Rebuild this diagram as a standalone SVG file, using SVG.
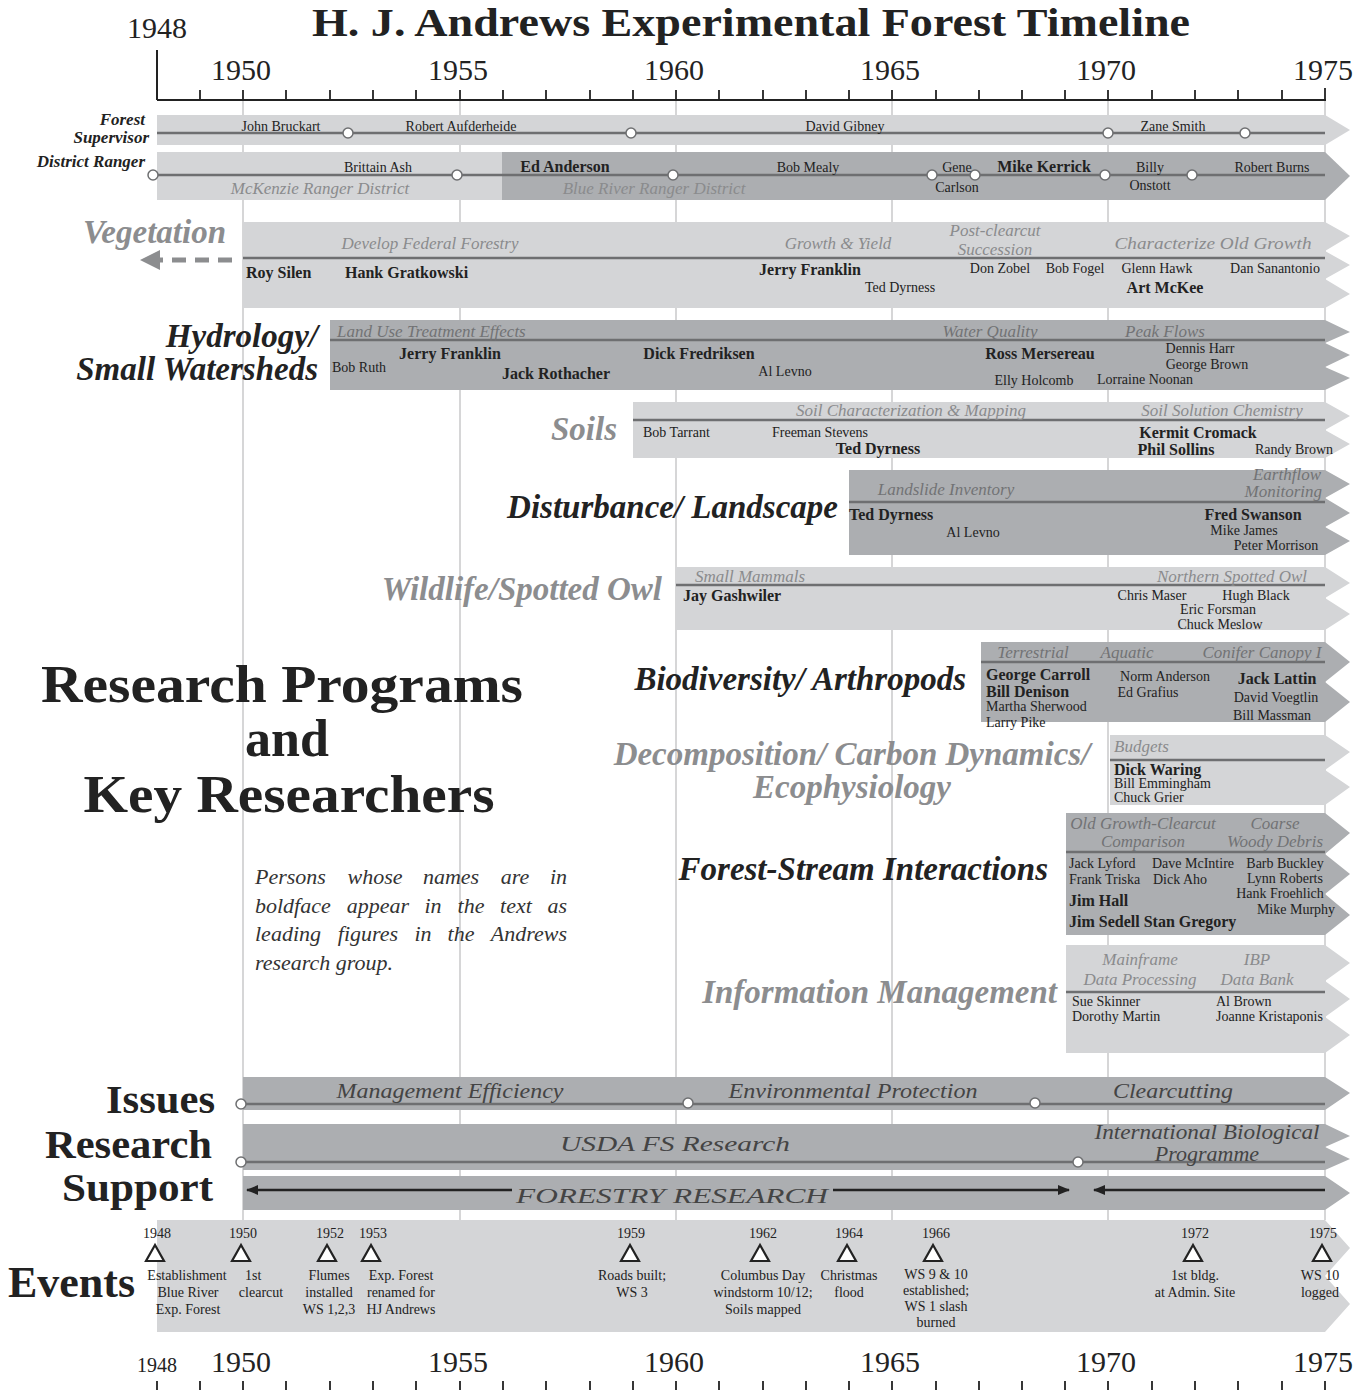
<svg xmlns="http://www.w3.org/2000/svg" width="1357" height="1390" viewBox="0 0 1357 1390">
<style>
text{font-family:"Liberation Serif","Times New Roman",serif;fill:#222}
.lt{fill:#d4d5d7}
.dk{fill:#acaeb1}
.ln{stroke:#6e6f71;stroke-width:2.5;fill:none}
.grid{stroke:#c8c8ca;stroke-width:1.5}
.tick{stroke:#222;stroke-width:1.8}
.yr{font-size:30px;text-anchor:middle}
.nm{font-size:14px;text-anchor:middle}
.nms{font-size:14px}
.b{font-weight:bold;font-size:16px}
.tp{font-style:italic;font-size:17px;fill:#8a8b8d;text-anchor:middle}
.tpd{font-style:italic;font-size:17px;fill:#727375;text-anchor:middle}
.cat{font-weight:bold;font-style:italic;font-size:33px;text-anchor:end}
.gcat{font-weight:bold;font-style:italic;font-size:33px;fill:#8c8d8f;text-anchor:end}
.role{font-weight:bold;font-style:italic;font-size:17px;text-anchor:end}
.big{font-weight:bold;font-size:41px;text-anchor:end}
.is{font-style:italic;font-size:22px;fill:#444;text-anchor:middle}
.ev{font-size:14px;text-anchor:middle}
.nt{font-style:italic;font-size:22px;fill:#333;text-anchor:middle}
.circ{fill:#fff;stroke:#6e6f71;stroke-width:1.5}
.tri{fill:#fff;stroke:#222;stroke-width:2.2}
</style>
<defs>
<marker id="ah" viewBox="0 0 10 10" refX="9" refY="5" markerWidth="5" markerHeight="5" orient="auto-start-reverse"><path d="M0,1 L10,5 L0,9 Z" fill="#222"/></marker>
</defs>
<rect width="1357" height="1390" fill="#fff"/>

<g id="grid">
<line class="grid" x1="243" y1="100" x2="243" y2="1220"/>
<line class="grid" x1="460" y1="100" x2="460" y2="1220"/>
<line class="grid" x1="676" y1="100" x2="676" y2="1220"/>
<line class="grid" x1="892" y1="100" x2="892" y2="1220"/>
<line class="grid" x1="1108" y1="100" x2="1108" y2="1220"/>
<line class="grid" x1="1325" y1="100" x2="1325" y2="1220"/>
</g>

<g id="title">
<text x="751" y="36" font-size="40" font-weight="bold" text-anchor="middle" textLength="878" lengthAdjust="spacingAndGlyphs">H. J. Andrews Experimental Forest Timeline</text>
</g>

<g id="top-axis">
<line x1="157" y1="100" x2="1326" y2="100" stroke="#222" stroke-width="2"/>
<line x1="157" y1="50" x2="157" y2="100" stroke="#222" stroke-width="2"/>
<path class="tick" d="M200,90V100M243,90V100M286,90V100M330,90V100M373,90V100M416,90V100M460,90V100M503,90V100M546,90V100M590,90V100M633,90V100M676,90V100M719,90V100M763,90V100M806,90V100M849,90V100M892,90V100M936,90V100M979,90V100M1022,90V100M1065,90V100M1108,90V100M1152,90V100M1195,90V100M1238,90V100M1282,90V100M1325,88V100"/>
<text x="157" y="38" font-size="30" text-anchor="middle">1948</text>
<text class="yr" x="241" y="80">1950</text>
<text class="yr" x="458" y="80">1955</text>
<text class="yr" x="674" y="80">1960</text>
<text class="yr" x="890" y="80">1965</text>
<text class="yr" x="1106" y="80">1970</text>
<text class="yr" x="1323" y="80">1975</text>
</g>

<g id="forest-supervisor">
<text class="role" x="145" y="125">Forest</text>
<text class="role" x="149" y="143">Supervisor</text>
<path class="lt" d="M157,115 L1325,115 L1350,130 L1325,145 L157,145Z"/>
<line class="ln" x1="157" y1="133" x2="1325" y2="133"/>
<circle class="circ" cx="348" cy="133" r="5"/>
<circle class="circ" cx="631" cy="133" r="5"/>
<circle class="circ" cx="1108" cy="133" r="5"/>
<circle class="circ" cx="1245" cy="133" r="5"/>
<text class="nm" x="281" y="131">John Bruckart</text>
<text class="nm" x="461" y="131">Robert Aufderheide</text>
<text class="nm" x="845" y="131">David Gibney</text>
<text class="nm" x="1173" y="131">Zane Smith</text>
</g>

<g id="district-ranger">
<text class="role" x="145" y="167" font-size="19">District Ranger</text>
<rect class="lt" x="157" y="152" width="345" height="48"/>
<path class="dk" d="M502,152 L1325,152 L1350,176 L1325,200 L502,200Z"/>
<line class="ln" x1="153" y1="175" x2="1325" y2="175"/>
<circle class="circ" cx="153" cy="175" r="5"/>
<circle class="circ" cx="457" cy="175" r="5"/>
<circle class="circ" cx="673" cy="175" r="5"/>
<circle class="circ" cx="932" cy="175" r="5"/>
<circle class="circ" cx="975" cy="175" r="5"/>
<circle class="circ" cx="1105" cy="175" r="5"/>
<circle class="circ" cx="1192" cy="175" r="5"/>
<text class="nm" x="378" y="172">Brittain Ash</text>
<text class="nm b" x="565" y="172" font-size="15">Ed Anderson</text>
<text class="nm" x="808" y="172">Bob Mealy</text>
<text class="nm" x="957" y="172">Gene</text>
<text class="nm" x="957" y="192">Carlson</text>
<text class="nm b" x="1044" y="172" font-size="15">Mike Kerrick</text>
<text class="nm" x="1150" y="172">Billy</text>
<text class="nm" x="1150" y="190">Onstott</text>
<text class="nm" x="1272" y="172">Robert Burns</text>
<text class="tp" x="320" y="194" font-size="15">McKenzie Ranger District</text>
<text class="tp" x="654" y="194" font-size="15">Blue River Ranger District</text>
</g>

<g id="vegetation">
<text class="gcat" x="226" y="243">Vegetation</text>
<line x1="232" y1="260" x2="160" y2="260" stroke="#8c8d8f" stroke-width="5" stroke-dasharray="14 9"/>
<path d="M140,260 L160,250 L160,270Z" fill="#8c8d8f"/>
<path class="lt" d="M243,222 L1325,222 L1350,236 L1325,251 L1350,265 L1325,279 L1350,294 L1325,308 L243,308Z"/>
<line class="ln" x1="243" y1="258" x2="1325" y2="258"/>
<text class="tp" x="430" y="249">Develop Federal Forestry</text>
<text class="tp" x="838" y="249">Growth &amp; Yield</text>
<text class="tp" x="995" y="236">Post-clearcut</text>
<text class="tp" x="995" y="255">Succession</text>
<text class="tp" x="1213" y="249" textLength="197" lengthAdjust="spacingAndGlyphs">Characterize Old Growth</text>
<text class="b" x="246" y="278">Roy Silen</text>
<text class="b" x="345" y="278">Hank Gratkowski</text>
<text class="nm b" x="810" y="275">Jerry Franklin</text>
<text class="nm" x="900" y="292">Ted Dyrness</text>
<text class="nm" x="1000" y="273">Don Zobel</text>
<text class="nm" x="1075" y="273">Bob Fogel</text>
<text class="nm" x="1157" y="273">Glenn Hawk</text>
<text class="nm" x="1275" y="273">Dan Sanantonio</text>
<text class="nm b" x="1165" y="293">Art McKee</text>
</g>

<g id="hydrology">
<text class="cat" x="318" y="347" font-size="34">Hydrology/</text>
<text class="cat" x="318" y="380" font-size="34">Small Watersheds</text>
<path class="dk" d="M330,320 L1325,320 L1350,332 L1325,343 L1350,355 L1325,367 L1350,378 L1325,390 L330,390Z"/>
<line class="ln" x1="330" y1="340" x2="1325" y2="340"/>
<text class="tpd" x="337" y="337" style="text-anchor:start">Land Use Treatment Effects</text>
<text class="tpd" x="990" y="337">Water Quality</text>
<text class="tpd" x="1165" y="337">Peak Flows</text>
<text class="nm b" x="450" y="359">Jerry Franklin</text>
<text class="nm b" x="699" y="359">Dick Fredriksen</text>
<text class="nm b" x="1040" y="359">Ross Mersereau</text>
<text class="nms" x="332" y="372" font-size="13">Bob Ruth</text>
<text class="nm b" x="556" y="379">Jack Rothacher</text>
<text class="nm" x="785" y="376">Al Levno</text>
<text class="nm" x="1200" y="353">Dennis Harr</text>
<text class="nm" x="1207" y="369">George Brown</text>
<text class="nm" x="1034" y="385">Elly Holcomb</text>
<text class="nm" x="1145" y="384">Lorraine Noonan</text>
</g>

<g id="soils">
<text class="gcat" x="617" y="440">Soils</text>
<path class="lt" d="M633,402 L1325,402 L1350,416 L1325,430 L1350,444 L1325,458 L633,458Z"/>
<line class="ln" x1="633" y1="420" x2="1325" y2="420"/>
<text class="tp" x="911" y="416">Soil Characterization &amp; Mapping</text>
<text class="tp" x="1222" y="416">Soil Solution Chemistry</text>
<text class="nms" x="643" y="437">Bob Tarrant</text>
<text class="nm" x="820" y="437">Freeman Stevens</text>
<text class="nm b" x="878" y="454">Ted Dyrness</text>
<text class="nm b" x="1198" y="438">Kermit Cromack</text>
<text class="nm b" x="1176" y="455">Phil Sollins</text>
<text class="nm" x="1294" y="454">Randy Brown</text>
</g>

<g id="disturbance">
<text class="cat" x="838" y="518">Disturbance/ Landscape</text>
<path class="dk" d="M849,470 L1325,470 L1350,484 L1325,498 L1350,513 L1325,527 L1350,541 L1325,555 L849,555Z"/>
<line class="ln" x1="849" y1="502" x2="1325" y2="502"/>
<text class="tpd" x="946" y="495">Landslide Inventory</text>
<text class="tpd" x="1321" y="480" style="text-anchor:end">Earthflow</text>
<text class="tpd" x="1322" y="497" style="text-anchor:end">Monitoring</text>
<text class="b" x="849" y="520">Ted Dyrness</text>
<text class="nm" x="973" y="537">Al Levno</text>
<text class="nm b" x="1253" y="520">Fred Swanson</text>
<text class="nm" x="1244" y="535">Mike James</text>
<text class="nm" x="1276" y="550">Peter Morrison</text>
</g>

<g id="wildlife">
<text class="gcat" x="662" y="600">Wildlife/Spotted Owl</text>
<path class="lt" d="M676,567 L1325,567 L1350,583 L1325,598 L1350,614 L1325,630 L676,630Z"/>
<line class="ln" x1="676" y1="585" x2="1325" y2="585"/>
<text class="tp" x="750" y="582" font-size="16">Small Mammals</text>
<text class="tp" x="1232" y="582" font-size="16">Northern Spotted Owl</text>
<text class="b" x="683" y="601">Jay Gashwiler</text>
<text class="nm" x="1152" y="600">Chris Maser</text>
<text class="nm" x="1256" y="600">Hugh Black</text>
<text class="nm" x="1218" y="614">Eric Forsman</text>
<text class="nm" x="1220" y="629">Chuck Meslow</text>
</g>

<g id="biodiversity">
<text class="cat" x="966" y="690">Biodiversity/ Arthropods</text>
<path class="dk" d="M981,642 L1325,642 L1350,662 L1325,682 L1350,702 L1325,722 L981,722Z"/>
<line class="ln" x1="981" y1="662" x2="1325" y2="662"/>
<text class="tpd" x="1033" y="658" font-size="16">Terrestrial</text>
<text class="tpd" x="1127" y="658" font-size="16">Aquatic</text>
<text class="tpd" x="1262" y="658" font-size="16">Conifer Canopy I</text>
<text class="b" x="986" y="680">George Carroll</text>
<text class="b" x="986" y="697">Bill Denison</text>
<text class="nms" x="986" y="711">Martha Sherwood</text>
<text class="nms" x="986" y="727">Larry Pike</text>
<text class="nm" x="1165" y="681">Norm Anderson</text>
<text class="nm" x="1148" y="697">Ed Grafius</text>
<text class="nm b" x="1277" y="684">Jack Lattin</text>
<text class="nm" x="1276" y="702">David Voegtlin</text>
<text class="nm" x="1272" y="720">Bill Massman</text>
</g>

<g id="decomposition">
<text class="gcat" x="852" y="765" style="text-anchor:middle">Decomposition/ Carbon Dynamics/</text>
<text class="gcat" x="852" y="798" style="text-anchor:middle">Ecophysiology</text>
<path class="lt" d="M1110,735 L1325,735 L1350,752 L1325,770 L1350,787 L1325,805 L1110,805Z"/>
<line class="ln" x1="1110" y1="760" x2="1325" y2="760"/>
<text class="tp" x="1114" y="752" font-size="16" style="text-anchor:start">Budgets</text>
<text class="b" x="1114" y="775" font-size="17">Dick Waring</text>
<text class="nms" x="1114" y="788" font-size="12">Bill Emmingham</text>
<text class="nms" x="1114" y="802" font-size="12">Chuck Grier</text>
</g>

<g id="forest-stream">
<text class="cat" x="1048" y="880">Forest-Stream Interactions</text>
<path class="dk" d="M1066,813 L1325,813 L1350,833 L1325,854 L1350,874 L1325,894 L1350,915 L1325,935 L1066,935Z"/>
<line class="ln" x1="1066" y1="852" x2="1325" y2="852"/>
<text class="tpd" x="1143" y="829" font-size="13">Old Growth-Clearcut</text>
<text class="tpd" x="1143" y="847" font-size="13">Comparison</text>
<text class="tpd" x="1275" y="829" font-size="13">Coarse</text>
<text class="tpd" x="1275" y="847" font-size="13">Woody Debris</text>
<text class="nms" x="1069" y="868">Jack Lyford</text>
<text class="nms" x="1069" y="884">Frank Triska</text>
<text class="nm" x="1193" y="868">Dave McIntire</text>
<text class="nm" x="1180" y="884">Dick Aho</text>
<text class="nm" x="1285" y="868">Barb Buckley</text>
<text class="nm" x="1285" y="883">Lynn Roberts</text>
<text class="nm" x="1280" y="898">Hank Froehlich</text>
<text class="nm" x="1296" y="914">Mike Murphy</text>
<text class="b" x="1069" y="906" font-size="17">Jim Hall</text>
<text class="b" x="1069" y="927" font-size="17">Jim Sedell Stan Gregory</text>
</g>

<g id="information-management">
<text class="gcat" x="1057" y="1003">Information Management</text>
<path class="lt" d="M1066,945 L1325,945 L1350,963 L1325,981 L1350,999 L1325,1017 L1350,1035 L1325,1053 L1066,1053Z"/>
<line class="ln" x1="1066" y1="992" x2="1325" y2="992"/>
<text class="tp" x="1140" y="965" font-size="16">Mainframe</text>
<text class="tp" x="1140" y="985" font-size="16">Data Processing</text>
<text class="tp" x="1257" y="965" font-size="16">IBP</text>
<text class="tp" x="1257" y="985" font-size="16">Data Bank</text>
<text class="nms" x="1072" y="1006">Sue Skinner</text>
<text class="nms" x="1072" y="1021">Dorothy Martin</text>
<text class="nms" x="1216" y="1006">Al Brown</text>
<text class="nms" x="1216" y="1021">Joanne Kristaponis</text>
</g>

<g id="heading">
<text x="282" y="702" font-size="52" font-weight="bold" text-anchor="middle" textLength="482" lengthAdjust="spacingAndGlyphs">Research Programs</text>
<text x="287" y="756" font-size="52" font-weight="bold" text-anchor="middle">and</text>
<text x="289" y="812" font-size="52" font-weight="bold" text-anchor="middle" textLength="411" lengthAdjust="spacingAndGlyphs">Key Researchers</text>
</g>

<g id="note">
<text class="nt" x="255" y="884" style="text-anchor:start">Persons</text>
<text class="nt" x="375" y="884">whose</text>
<text class="nt" x="451" y="884">names</text>
<text class="nt" x="515" y="884">are</text>
<text class="nt" x="567" y="884" style="text-anchor:end">in</text>
<text class="nt" x="255" y="913" style="text-anchor:start">boldface</text>
<text class="nt" x="378" y="913">appear</text>
<text class="nt" x="433" y="913">in</text>
<text class="nt" x="471" y="913">the</text>
<text class="nt" x="516" y="913">text</text>
<text class="nt" x="567" y="913" style="text-anchor:end">as</text>
<text class="nt" x="255" y="941" style="text-anchor:start">leading</text>
<text class="nt" x="368" y="941">figures</text>
<text class="nt" x="423" y="941">in</text>
<text class="nt" x="461" y="941">the</text>
<text class="nt" x="567" y="941" style="text-anchor:end">Andrews</text>
<text class="nt" x="255" y="970" style="text-anchor:start">research group.</text>
</g>

<g id="issues">
<text class="big" x="215" y="1113" textLength="109" lengthAdjust="spacingAndGlyphs">Issues</text>
<path class="dk" d="M243,1077 L1325,1077 L1350,1093 L1325,1110 L243,1110Z"/>
<line class="ln" x1="241" y1="1104" x2="1325" y2="1104"/>
<circle class="circ" cx="241" cy="1104" r="5"/>
<circle class="circ" cx="688" cy="1103" r="5"/>
<circle class="circ" cx="1035" cy="1103" r="5"/>
<text class="is" x="450" y="1098" textLength="227" lengthAdjust="spacingAndGlyphs">Management Efficiency</text>
<text class="is" x="853" y="1098" textLength="249" lengthAdjust="spacingAndGlyphs">Environmental Protection</text>
<text class="is" x="1173" y="1098" textLength="120" lengthAdjust="spacingAndGlyphs">Clearcutting</text>
</g>

<g id="research-support">
<text class="big" x="212" y="1158" textLength="167" lengthAdjust="spacingAndGlyphs">Research</text>
<text class="big" x="213" y="1201" textLength="151" lengthAdjust="spacingAndGlyphs">Support</text>
<path class="dk" d="M243,1124 L1325,1124 L1350,1136 L1325,1147 L1350,1159 L1325,1170 L243,1170Z"/>
<line class="ln" x1="241" y1="1162" x2="1325" y2="1162"/>
<circle class="circ" cx="241" cy="1162" r="5"/>
<circle class="circ" cx="1078" cy="1162" r="5"/>
<text class="is" x="675" y="1151" font-size="28" textLength="230" lengthAdjust="spacingAndGlyphs">USDA FS Research</text>
<text class="is" x="1207" y="1139" font-size="17" textLength="225" lengthAdjust="spacingAndGlyphs">International Biological</text>
<text class="is" x="1207" y="1161" font-size="17">Programme</text>
<path class="dk" d="M243,1176 L1325,1176 L1350,1193 L1325,1210 L243,1210Z"/>
<text class="is" x="672" y="1203" font-size="30" textLength="312" lengthAdjust="spacingAndGlyphs">FORESTRY RESEARCH</text>
</g>

<g id="connectors" stroke="#222" stroke-width="2.5" fill="none">
<line x1="512" y1="1190" x2="247" y2="1190" marker-end="url(#ah)"/>
<line x1="833" y1="1190" x2="1069" y2="1190" marker-end="url(#ah)"/>
<line x1="1325" y1="1190" x2="1094" y2="1190" marker-end="url(#ah)"/>
</g>

<g id="events">
<text x="135" y="1297" font-size="44" font-weight="bold" text-anchor="end">Events</text>
<path class="lt" d="M157,1220 L1325,1220 L1350,1248 L1325,1276 L1350,1304 L1325,1332 L157,1332Z"/>
<g id="ev1948"><text class="ev" x="157" y="1238">1948</text><path class="tri" d="M155,1245 L146,1261 L164,1261Z"/><text class="ev" x="187" y="1280">Establishment</text><text class="ev" x="188" y="1297">Blue River</text><text class="ev" x="188" y="1314">Exp. Forest</text></g>
<g id="ev1950"><text class="ev" x="243" y="1238">1950</text><path class="tri" d="M241,1245 L232,1261 L250,1261Z"/><text class="ev" x="245" y="1280" style="text-anchor:start">1st</text><text class="ev" x="261" y="1297">clearcut</text></g>
<g id="ev1952"><text class="ev" x="330" y="1238">1952</text><path class="tri" d="M327,1245 L318,1261 L336,1261Z"/><text class="ev" x="329" y="1280">Flumes</text><text class="ev" x="329" y="1297">installed</text><text class="ev" x="329" y="1314">WS 1,2,3</text></g>
<g id="ev1953"><text class="ev" x="373" y="1238">1953</text><path class="tri" d="M371,1245 L362,1261 L380,1261Z"/><text class="ev" x="401" y="1280">Exp. Forest</text><text class="ev" x="401" y="1297">renamed for</text><text class="ev" x="401" y="1314">HJ Andrews</text></g>
<g id="ev1959"><text class="ev" x="631" y="1238">1959</text><path class="tri" d="M630,1245 L621,1261 L639,1261Z"/><text class="ev" x="632" y="1280">Roads built;</text><text class="ev" x="632" y="1297">WS 3</text></g>
<g id="ev1962"><text class="ev" x="763" y="1238">1962</text><path class="tri" d="M760,1245 L751,1261 L769,1261Z"/><text class="ev" x="763" y="1280">Columbus Day</text><text class="ev" x="763" y="1297">windstorm 10/12;</text><text class="ev" x="763" y="1314">Soils mapped</text></g>
<g id="ev1964"><text class="ev" x="849" y="1238">1964</text><path class="tri" d="M847,1245 L838,1261 L856,1261Z"/><text class="ev" x="849" y="1280">Christmas</text><text class="ev" x="849" y="1297">flood</text></g>
<g id="ev1966"><text class="ev" x="936" y="1238">1966</text><path class="tri" d="M933,1245 L924,1261 L942,1261Z"/><text class="ev" x="936" y="1279">WS 9 &amp; 10</text><text class="ev" x="936" y="1295">established;</text><text class="ev" x="936" y="1311">WS 1 slash</text><text class="ev" x="936" y="1327">burned</text></g>
<g id="ev1972"><text class="ev" x="1195" y="1238">1972</text><path class="tri" d="M1193,1245 L1184,1261 L1202,1261Z"/><text class="ev" x="1195" y="1280">1st bldg.</text><text class="ev" x="1195" y="1297">at Admin. Site</text></g>
<g id="ev1975"><text class="ev" x="1323" y="1238">1975</text><path class="tri" d="M1322,1245 L1313,1261 L1331,1261Z"/><text class="ev" x="1320" y="1280">WS 10</text><text class="ev" x="1320" y="1297">logged</text></g>
</g>

<g id="bottom-axis">
<text x="157" y="1372" font-size="20" text-anchor="middle">1948</text>
<text class="yr" x="241" y="1372">1950</text>
<text class="yr" x="458" y="1372">1955</text>
<text class="yr" x="674" y="1372">1960</text>
<text class="yr" x="890" y="1372">1965</text>
<text class="yr" x="1106" y="1372">1970</text>
<text class="yr" x="1323" y="1372">1975</text>
<path class="tick" d="M157,1381V1390M200,1381V1390M243,1381V1390M286,1381V1390M330,1381V1390M373,1381V1390M416,1381V1390M460,1381V1390M503,1381V1390M546,1381V1390M590,1381V1390M633,1381V1390M676,1381V1390M719,1381V1390M763,1381V1390M806,1381V1390M849,1381V1390M892,1381V1390M936,1381V1390M979,1381V1390M1022,1381V1390M1065,1381V1390M1108,1381V1390M1152,1381V1390M1195,1381V1390M1238,1381V1390M1282,1381V1390M1325,1381V1390"/>
</g>
</svg>
